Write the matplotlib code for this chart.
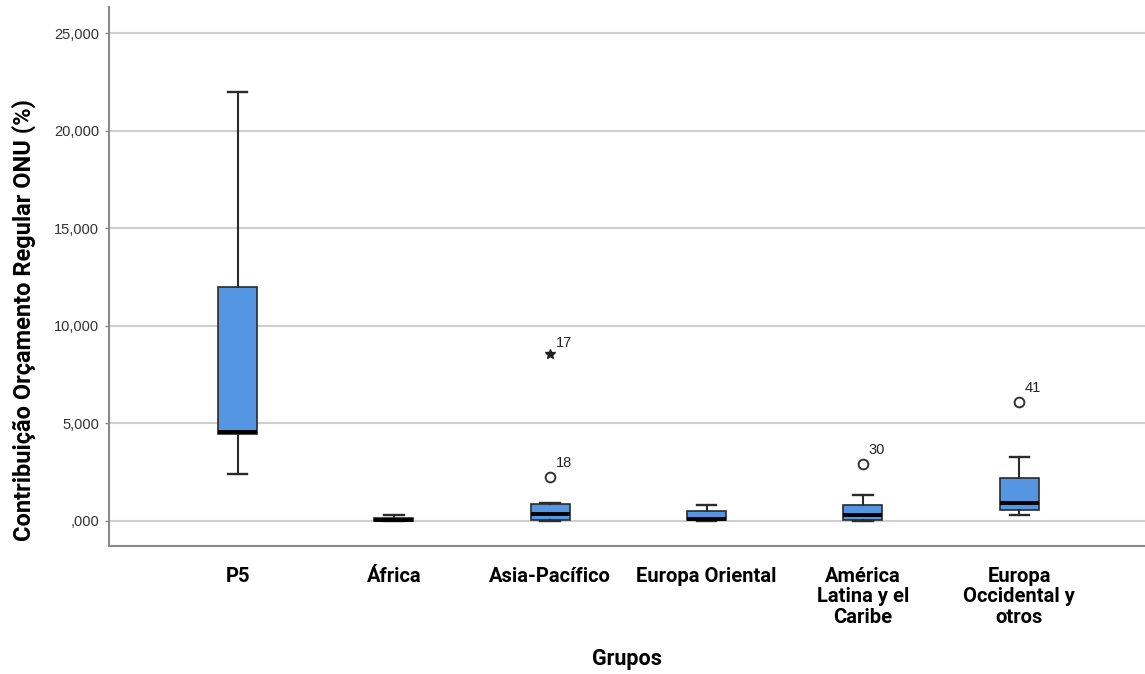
import matplotlib
matplotlib.use("Agg")
import matplotlib.pyplot as plt
from matplotlib.ticker import FuncFormatter

# groups and box statistics
grupos = ["P5", "África", "Asia-Pacífico", "Europa Oriental",
          "América\nLatina y el\nCaribe", "Europa\nOccidental y\notros"]
whislo = [2.41, 0.002, 0.005, 0.01, 0.01, 0.29]
q1 = [4.43, 0.005, 0.06, 0.03, 0.05, 0.58]
med = [4.57, 0.02, 0.37, 0.10, 0.31, 0.92]
q3 = [12.00, 0.17, 0.87, 0.51, 0.80, 2.18]
whishi = [22.00, 0.30, 0.90, 0.80, 1.30, 3.29]

# outliers: (group index, value, case label, kind)
out_grp = [2, 2, 4, 5]
out_val = [8.56, 2.27, 2.94, 6.10]
out_lab = ["17", "18", "30", "41"]
out_extreme = [True, False, False, False]

yticks = [0, 5, 10, 15, 20, 25]

cond = ["Roboto", "DejaVu Sans"]
plain = ["Liberation Sans", "DejaVu Sans"]

fig = plt.figure(figsize=(11.45, 6.74), dpi=100)
ax = fig.add_axes([109/1145, 1 - 546/674, 1 - 109/1145, (546 - 7)/674])

stats = []
for i in range(len(grupos)):
    stats.append(dict(med=med[i], q1=q1[i], q3=q3[i], whislo=whislo[i], whishi=whishi[i], fliers=[]))

pos = list(range(1, len(grupos) + 1))
ax.bxp(stats, positions=pos, widths=0.25, patch_artist=True, showfliers=False,
       boxprops=dict(facecolor="#5596e3", edgecolor="#2b2b2b", linewidth=1.2),
       medianprops=dict(color="black", linewidth=2.8, solid_capstyle="butt"),
       whiskerprops=dict(color="#2b2b2b", linewidth=1.5),
       capprops=dict(color="#2b2b2b", linewidth=1.7), capwidths=0.125,
       zorder=3)

for g, v, lab, ext in zip(out_grp, out_val, out_lab, out_extreme):
    if ext:
        ax.plot(pos[g], v, marker="*", ms=7, color="#222222", ls="none", zorder=4)
        ax.annotate(lab, (pos[g], v), xytext=(4, 5), textcoords="offset points",
                    fontsize=10.5, family=plain, color="#222222", va="baseline")
    else:
        ax.plot(pos[g], v, marker="o", ms=7, mfc="white", mec="#333333", mew=1.4,
                ls="none", zorder=4)
        ax.annotate(lab, (pos[g], v), xytext=(4, 7), textcoords="offset points",
                    fontsize=10.5, family=plain, color="#222222", va="baseline")

ax.set_xlim(0.178, 6.804)
ax.set_ylim(-1.29, 26.35)
ax.set_yticks(yticks)
ax.yaxis.set_major_formatter(FuncFormatter(lambda v, p: ",000" if v == 0 else f"{int(v)},000"))
ax.grid(axis="y", color="#cfcfcf", linewidth=1.5, zorder=0)
ax.set_axisbelow(True)

ax.set_xticks(pos)
ax.set_xticklabels(grupos, fontsize=14.5, fontweight="bold", family=cond, linespacing=1.1,
                   color="black")
ax.tick_params(axis="x", length=0, pad=15)
ax.tick_params(axis="y", length=3, width=1, color="#888888", labelsize=10.5, pad=4,
               labelcolor="#333333")
for t in ax.get_yticklabels():
    t.set_family(plain)

for s in ["top", "right"]:
    ax.spines[s].set_visible(False)
for s in ["left", "bottom"]:
    ax.spines[s].set_color("#8a8a8a")
    ax.spines[s].set_linewidth(1.5)

ax.set_ylabel("Contribuição Orçamento Regular ONU (%)", fontsize=17, fontweight="bold",
              family=cond, color="black")
ax.yaxis.set_label_coords(-0.07, 0.42)
ax.set_xlabel("Grupos", fontsize=15.5, fontweight="bold", family=cond, color="black")
ax.xaxis.set_label_coords(0.5, -0.19)

fig.savefig("out.png", dpi=100)
